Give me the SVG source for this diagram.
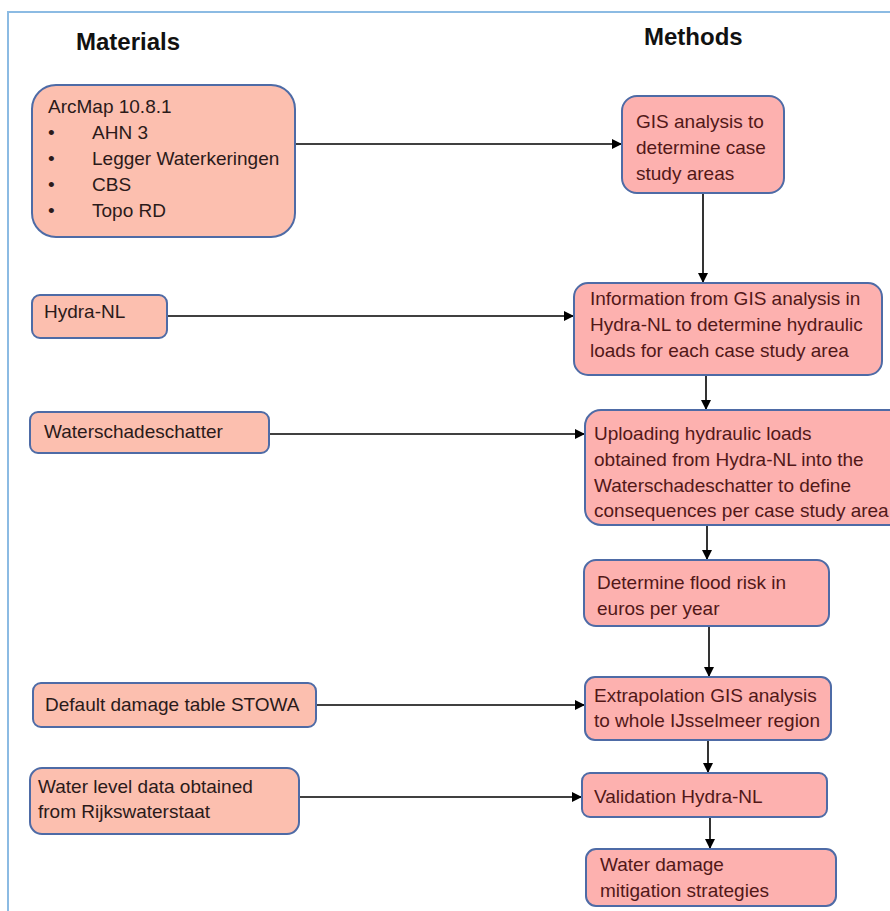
<svg xmlns="http://www.w3.org/2000/svg" width="890" height="911" viewBox="0 0 890 911">
<defs>
<marker id="ah" viewBox="0 0 10 10" refX="10" refY="5" markerWidth="10" markerHeight="10" markerUnits="userSpaceOnUse" orient="auto">
<path d="M0,0 L10,5 L0,10 z" fill="#000"/>
</marker>
<style>
.mat{fill:#FCBFAF;stroke:#4E6BA6;stroke-width:2}
.met{fill:#FDB1AF;stroke:#4E6BA6;stroke-width:2}
.t{font-family:"Liberation Sans",Arial,sans-serif;font-size:19px}
.tm{fill:#2b1a1a}
.tr{fill:#521818}
.h{font-family:"Liberation Sans",Arial,sans-serif;font-size:24px;font-weight:bold;fill:#111}
.c{stroke:#000;stroke-width:1.6;fill:none;marker-end:url(#ah)}
</style>
</defs>
<rect x="0" y="0" width="890" height="911" fill="#fff"/>
<rect x="8" y="12" width="900" height="920" fill="none" stroke="#8CBBE3" stroke-width="2"/>
<text class="h" x="76" y="50">Materials</text>
<text class="h" x="644" y="45">Methods</text>

<g id="connectors">
<line class="c" x1="295" y1="144" x2="622" y2="144"/>
<line class="c" x1="703" y1="193" x2="703" y2="283"/>
<line class="c" x1="167" y1="316" x2="574" y2="316"/>
<line class="c" x1="706" y1="375" x2="706" y2="410"/>
<line class="c" x1="269" y1="434" x2="585" y2="434"/>
<line class="c" x1="707" y1="525" x2="707" y2="560"/>
<line class="c" x1="709" y1="627" x2="709" y2="677"/>
<line class="c" x1="316" y1="705" x2="585" y2="705"/>
<line class="c" x1="708" y1="740" x2="708" y2="773"/>
<line class="c" x1="299" y1="797" x2="582" y2="797"/>
<line class="c" x1="710" y1="817" x2="710" y2="849"/>
</g>

<g id="arcmap">
<rect class="mat" x="32" y="85" width="263" height="152" rx="24"/>
<text class="t tm" x="48" y="113">ArcMap 10.8.1</text>
<text class="t tm" x="48" y="139">•</text><text class="t tm" x="92" y="139">AHN 3</text>
<text class="t tm" x="48" y="165">•</text><text class="t tm" x="92" y="165">Legger Waterkeringen</text>
<text class="t tm" x="48" y="191">•</text><text class="t tm" x="92" y="191">CBS</text>
<text class="t tm" x="48" y="217">•</text><text class="t tm" x="92" y="217">Topo RD</text>
</g>

<g id="gis">
<rect class="met" x="622" y="96" width="162" height="97" rx="15"/>
<text class="t tr" x="636" y="128">GIS analysis to</text>
<text class="t tr" x="636" y="154">determine case</text>
<text class="t tr" x="636" y="180">study areas</text>
</g>

<g id="hydra">
<rect class="mat" x="32" y="295" width="135" height="43" rx="8"/>
<text class="t tm" x="44" y="318">Hydra-NL</text>
</g>

<g id="info">
<rect class="met" x="574" y="283" width="308" height="92" rx="14"/>
<text class="t tr" x="590" y="305">Information from GIS analysis in</text>
<text class="t tr" x="590" y="331">Hydra-NL to determine hydraulic</text>
<text class="t tr" x="590" y="357">loads for each case study area</text>
</g>

<g id="wss">
<rect class="mat" x="30" y="412" width="239" height="41" rx="8"/>
<text class="t tm" x="44" y="438">Waterschadeschatter</text>
</g>

<g id="upload">
<rect class="met" x="585" y="410" width="320" height="115" rx="16"/>
<text class="t tr" x="594" y="440">Uploading hydraulic loads</text>
<text class="t tr" x="594" y="466">obtained from Hydra-NL into the</text>
<text class="t tr" x="594" y="492">Waterschadeschatter to define</text>
<text class="t tr" x="594" y="517">consequences per case study area</text>
</g>

<g id="determine">
<rect class="met" x="584" y="560" width="245" height="66" rx="12"/>
<text class="t tr" x="597" y="589">Determine flood risk in</text>
<text class="t tr" x="597" y="615">euros per year</text>
</g>

<g id="default">
<rect class="mat" x="33" y="683" width="283" height="44" rx="8"/>
<text class="t tm" x="45" y="711">Default damage table STOWA</text>
</g>

<g id="extrapolation">
<rect class="met" x="585" y="677" width="246" height="63" rx="10"/>
<text class="t tr" x="594" y="702">Extrapolation GIS analysis</text>
<text class="t tr" x="594" y="727">to whole IJsselmeer region</text>
</g>

<g id="waterlevel">
<rect class="mat" x="30" y="768" width="269" height="66" rx="12"/>
<text class="t tm" x="38" y="793">Water level data obtained</text>
<text class="t tm" x="38" y="818">from Rijkswaterstaat</text>
</g>

<g id="validation">
<rect class="met" x="582" y="773" width="245" height="44" rx="8"/>
<text class="t tr" x="594" y="803">Validation Hydra-NL</text>
</g>

<g id="mitigation">
<rect class="met" x="586" y="849" width="250" height="57" rx="10"/>
<text class="t tr" x="600" y="871">Water damage</text>
<text class="t tr" x="600" y="897">mitigation strategies</text>
</g>
</svg>
